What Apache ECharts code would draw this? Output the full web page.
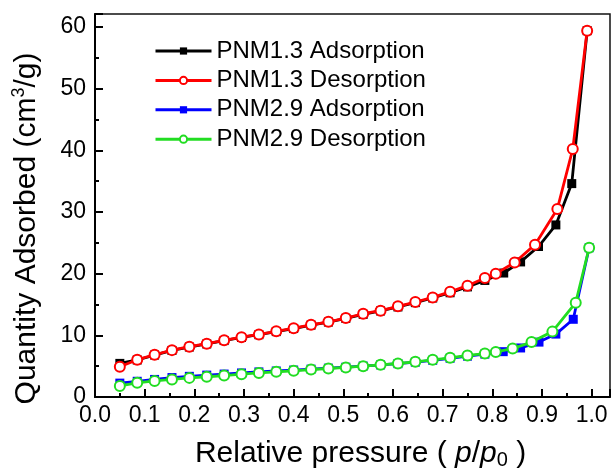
<!DOCTYPE html>
<html>
<head>
<meta charset="utf-8">
<script src="https://cdn.jsdelivr.net/npm/echarts@6/dist/echarts.min.js"></script>
<style>
  html, body { margin: 0; padding: 0; background: #fff; }
  #chart { width: 611px; height: 475px; }
</style>
</head>
<body>
<div id="chart"></div>
<script>
// relative pressure p/p0, shared by the low-pressure points of all four curves
const pLow = [0.05, 0.085, 0.12, 0.155, 0.19, 0.225, 0.26, 0.295, 0.33, 0.365, 0.40,
  0.435, 0.47, 0.505, 0.54, 0.575, 0.61, 0.645, 0.68, 0.715, 0.75, 0.785]

// PNM1.3
const ads13Low = [5.45, 6.0, 6.8, 7.55, 8.1, 8.6, 9.15, 9.65, 10.1, 10.6, 11.1,
  11.65, 12.15, 12.75, 13.4, 13.95, 14.6, 15.3, 16.05, 16.9, 17.85, 18.9]
const ads13HighP = [0.823, 0.857, 0.893, 0.928, 0.96, 0.991]
const ads13High = [20.1, 21.9, 24.4, 27.9, 34.6, 59.4]
const des13Low = [4.9, 6.05, 6.85, 7.6, 8.15, 8.65, 9.2, 9.7, 10.15, 10.65, 11.15,
  11.7, 12.2, 12.8, 13.5, 14.0, 14.7, 15.4, 16.15, 17.05, 18.05, 19.3]
const des13HighP = [0.807, 0.845, 0.886, 0.931, 0.962, 0.991]
const des13High = [20.0, 21.8, 24.7, 30.5, 40.2, 59.4]

// PNM2.9
const ads29Low = [2.25, 2.55, 2.85, 3.15, 3.35, 3.55, 3.72, 3.9, 4.07, 4.22, 4.37,
  4.52, 4.68, 4.83, 5.02, 5.2, 5.4, 5.65, 5.95, 6.28, 6.62, 6.95]
const ads29HighP = [0.822, 0.857, 0.894, 0.928, 0.963, 0.995]
const ads29High = [7.35, 7.95, 8.9, 10.2, 12.6, 24.2]
const des29Low = [1.8, 2.3, 2.6, 2.85, 3.1, 3.28, 3.48, 3.7, 3.9, 4.08, 4.25,
  4.45, 4.62, 4.8, 5.0, 5.22, 5.43, 5.7, 6.03, 6.36, 6.74, 7.05]
const des29HighP = [0.807, 0.841, 0.879, 0.921, 0.968, 0.995]
const des29High = [7.3, 7.85, 8.9, 10.6, 15.3, 24.2]

const names = ['PNM1.3 Adsorption', 'PNM1.3 Desorption', 'PNM2.9 Adsorption', 'PNM2.9 Desorption']
const colors = ['#000000', '#ff0000', '#0000ff', '#22dd22']

const font = '"Liberation Sans", Arial, Helvetica, sans-serif'

function pairs(xs, ys) {
  return xs.map((x, i) => [x, ys[i]])
}

const curves = [
  pairs(pLow, ads13Low).concat(pairs(ads13HighP, ads13High)),
  pairs(pLow, des13Low).concat(pairs(des13HighP, des13High)),
  pairs(pLow, ads29Low).concat(pairs(ads29HighP, ads29High)),
  pairs(pLow, des29Low).concat(pairs(des29HighP, des29High))
]

const chart = echarts.init(document.getElementById('chart'), null, { renderer: 'canvas' })

chart.setOption({
  backgroundColor: '#fff',
  animation: false,
  textStyle: { fontFamily: font },
  grid: {
    left: 95,
    top: 14,
    right: 1,
    bottom: 78,
    show: true,
    borderColor: '#111',
    borderWidth: 1.5,
    backgroundColor: 'transparent'
  },
  legend: {
    orient: 'vertical',
    left: 149,
    top: 34,
    itemWidth: 56,
    itemHeight: 9,
    itemGap: 5.4,
    lineStyle: { width: 3 },
    textStyle: { fontSize: 24, color: '#000', lineHeight: 24, fontFamily: font },
    data: names
  },
  xAxis: {
    type: 'value',
    min: 0,
    max: 1.037,
    interval: 0.1,
    name: '{n|Relative pressure ( }{i|p}{n|/}{i|p}{s|0}{n| )}',
    nameLocation: 'middle',
    nameGap: 41,
    nameTextStyle: {
      padding: [0, 0, 0, 16],
      rich: {
        n: { fontSize: 30, color: '#000', fontFamily: font, lineHeight: 32 },
        i: { fontSize: 30, color: '#000', fontFamily: font, fontStyle: 'italic', lineHeight: 32 },
        s: { fontSize: 20, color: '#000', fontFamily: font, verticalAlign: 'bottom', lineHeight: 26 }
      }
    },
    axisLine: { show: true, onZero: false, lineStyle: { color: '#000', width: 2 } },
    axisTick: { show: true, inside: true, length: 8, lineStyle: { color: '#000', width: 2 } },
    minorTick: { show: true, splitNumber: 2, length: 4, lineStyle: { color: '#000', width: 2 } },
    axisLabel: {
      color: '#000',
      fontSize: 23,
      margin: 7,
      showMaxLabel: false,
      formatter: v => v.toFixed(1)
    },
    splitLine: { show: false }
  },
  yAxis: {
    type: 'value',
    min: 0,
    max: 62.1,
    interval: 10,
    name: '{n|Quantity Adsorbed (cm}{s|3}{n|/g)}',
    nameLocation: 'middle',
    nameRotate: 90,
    nameGap: 51,
    nameTextStyle: {
      padding: [0, 46, 0, 0],
      rich: {
        n: { fontSize: 30, color: '#000', fontFamily: font, lineHeight: 34 },
        s: { fontSize: 18, color: '#000', fontFamily: font, verticalAlign: 'top', lineHeight: 20 }
      }
    },
    axisLine: { show: true, onZero: false, lineStyle: { color: '#000', width: 2 } },
    axisTick: { show: true, inside: true, length: 8, lineStyle: { color: '#000', width: 2 } },
    minorTick: { show: true, splitNumber: 2, length: 4, lineStyle: { color: '#000', width: 2 } },
    axisLabel: { color: '#000', fontSize: 23, margin: 9, showMaxLabel: false },
    splitLine: { show: false }
  },
  series: curves.map((data, idx) => ({
    name: names[idx],
    type: 'line',
    data: data,
    symbol: idx % 2 === 0 ? 'rect' : 'emptyCircle',
    symbolSize: idx % 2 === 0 ? 9 : 10,
    showAllSymbol: true,
    z: 2 + idx,
    lineStyle: { color: colors[idx], width: 2.8 },
    itemStyle: { color: colors[idx], borderWidth: idx % 2 === 0 ? 0 : 1.1 }
  }))
})
</script>
</body>
</html>
